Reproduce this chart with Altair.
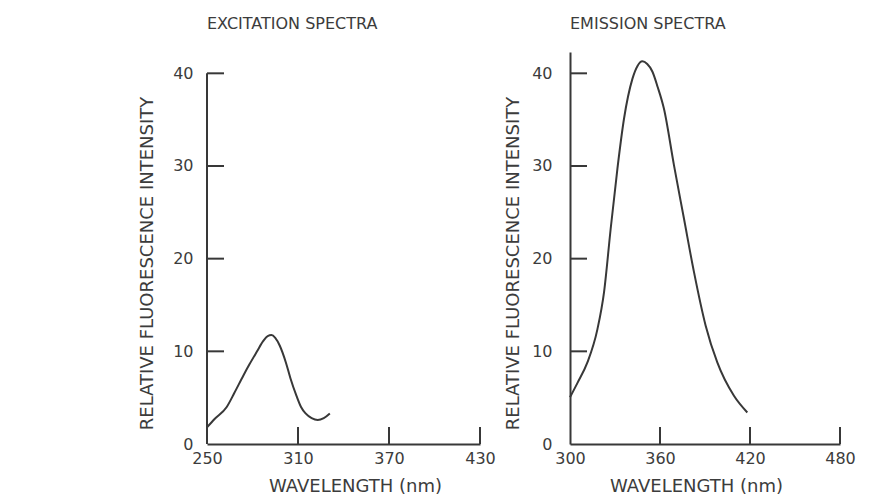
import altair as alt
import pandas as pd

# ---- data ----
EXC_WL = [250, 255, 263, 268, 274, 278, 283, 287, 290, 292.5, 295, 298, 302, 305, 309, 312, 315, 319, 323, 327, 331]
EXC_I = [1.8, 2.7, 4.0, 5.5, 7.4, 8.6, 10.0, 11.1, 11.65, 11.75, 11.45, 10.6, 8.8, 7.1, 5.2, 4.0, 3.3, 2.8, 2.6, 2.8, 3.3]

EM_WL = [300, 305, 311.6, 318.3, 322.7, 327.1, 331.6, 336, 341.6, 345, 348.2, 351.5, 354.9, 358.5, 362.6,
         369.3, 376, 382.6, 390.4, 398.2, 409.3, 418.2]
EM_I = [5.05, 6.6, 8.8, 12.4, 16.4, 23.2, 29.7, 35.1, 39.4, 40.8, 41.3, 41.0, 40.2, 38.5, 36.2,
        30.1, 24.3, 18.6, 12.8, 8.8, 5.2, 3.4]

Y_LABELS = [0, 10, 20, 30, 40]
Y_TICKS = [10, 20, 30, 40]
EXC_X_LABELS = [250, 310, 370, 430]
EXC_X_TICKS = [310, 370, 430]
EM_X_LABELS = [300, 360, 420, 480]
EM_X_TICKS = [360, 420, 480]
EXC_DOMAIN = [250, 430]
EM_DOMAIN = [300, 480]
Y_DOMAIN = [0, 42.3]
EXC_YLINE = [0, 40]

INK = "#383838"
TXT = "#3c3c3c"
FONT = "DejaVu Sans"
H = 392
TICK = 17


def panel(wl, inten, xdom, xlabels, xticks, width, title, ylab_pad, ytitle_x, xtitle_x, left_line):
    xs = alt.Scale(domain=xdom, nice=False, zero=False)
    ys = alt.Scale(domain=Y_DOMAIN, nice=False, zero=False)
    xaxis = alt.Axis(
        values=xlabels, ticks=False, tickSize=0, grid=False, domain=True,
        domainColor=INK, domainWidth=2, labelPadding=6, labelFont=FONT, labelFontSize=16,
        labelColor=TXT, labelFlush=False, format="d",
        title="WAVELENGTH (nm)", titleFont=FONT, titleFontSize=18, titleFontWeight="normal",
        titleColor=TXT, titleX=xtitle_x, titleY=47, titleBaseline="alphabetic", titleAlign="center")
    yaxis = alt.Axis(
        values=Y_LABELS, ticks=False, tickSize=0, grid=False, domain=not left_line,
        domainColor=INK, domainWidth=2, labelPadding=ylab_pad, labelFont=FONT, labelFontSize=16,
        labelColor=TXT, labelFlush=False, format="d",
        title="RELATIVE FLUORESCENCE INTENSITY", titleFont=FONT, titleFontSize=18,
        titleFontWeight="normal", titleColor=TXT, titleX=ytitle_x, titleY=211,
        titleBaseline="alphabetic", titleAlign="center", titleAngle=270)
    df = pd.DataFrame({"wl": wl, "v": inten})
    line = alt.Chart(df).mark_line(color=INK, strokeWidth=2, interpolate="monotone").encode(
        x=alt.X("wl:Q", scale=xs, axis=xaxis),
        y=alt.Y("v:Q", scale=ys, axis=yaxis),
    )
    yt = alt.Chart(pd.DataFrame({"t": Y_TICKS})).mark_rule(color=INK, strokeWidth=2).encode(
        y=alt.Y("t:Q", scale=ys, axis=yaxis), x=alt.value(0), x2=alt.value(TICK))
    xt = alt.Chart(pd.DataFrame({"t": xticks})).mark_rule(color=INK, strokeWidth=2).encode(
        x=alt.X("t:Q", scale=xs, axis=xaxis), y=alt.value(H), y2=alt.value(H - TICK))
    layers = [line, yt, xt]
    if left_line:
        yl = alt.Chart(pd.DataFrame({"a": [EXC_YLINE[0]], "b": [EXC_YLINE[1]]})).mark_rule(
            color=INK, strokeWidth=2).encode(
            y=alt.Y("a:Q", scale=ys, axis=yaxis), y2="b:Q", x=alt.value(0))
        layers.append(yl)
    return alt.layer(*layers).properties(
        width=width, height=H,
        title=alt.Title(title, anchor="start", frame="group", font=FONT, fontSize=16,
                        fontWeight="normal", color=TXT, offset=7, baseline="alphabetic"),
    )


left = panel(EXC_WL, EXC_I, EXC_DOMAIN, EXC_X_LABELS, EXC_X_TICKS, 273,
             "EXCITATION SPECTRA", 14, -55, 148, True)
right = panel(EM_WL, EM_I, EM_DOMAIN, EM_X_LABELS, EM_X_TICKS, 270,
              "EMISSION SPECTRA", 18, -52, 126, False)

chart = alt.hconcat(left, right, spacing=7).properties(
    padding={"left": 129, "top": 8, "right": 5, "bottom": 5},
    background="white",
).configure_view(stroke=None)

chart.save("out.html", embed_options={"renderer": "svg", "actions": False})
